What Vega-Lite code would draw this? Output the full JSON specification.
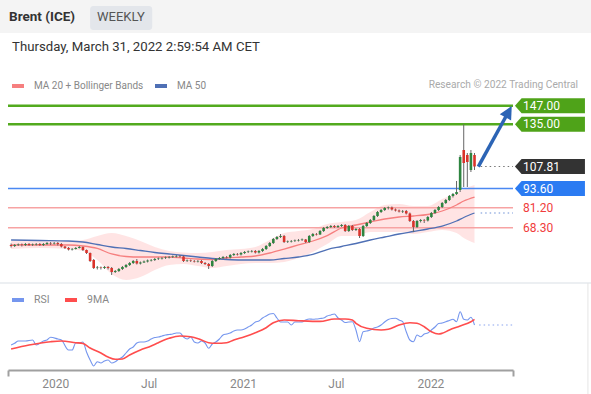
{
"$schema": "https://vega.github.io/schema/vega-lite/v6.json",
"width": 505,
"height": 370,
"autosize": {"type": "none"},
"padding": {"left": 8, "top": 0, "right": 78, "bottom": 24},
"background": "white",
"config": {"view": {"stroke": null}, "font": "Roboto"},
"data": {"values": [{}]},
"datasets": {
"candles": [
{"d":"2019-10-07","o":57.17,"h":58.13,"l":55.55,"c":56.52},
{"d":"2019-10-14","o":56.52,"h":57.81,"l":55.88,"c":57.17},
{"d":"2019-10-21","o":57.17,"h":58.13,"l":56.52,"c":57.49},
{"d":"2019-10-28","o":57.49,"h":58.13,"l":56.2,"c":57.17},
{"d":"2019-11-04","o":57.17,"h":58.46,"l":56.52,"c":57.81},
{"d":"2019-11-11","o":57.81,"h":58.46,"l":56.52,"c":57.17},
{"d":"2019-11-18","o":57.17,"h":58.13,"l":56.52,"c":57.49},
{"d":"2019-11-25","o":57.49,"h":58.46,"l":56.84,"c":57.81},
{"d":"2019-12-02","o":57.81,"h":58.46,"l":56.52,"c":57.17},
{"d":"2019-12-09","o":57.17,"h":58.46,"l":56.52,"c":57.81},
{"d":"2019-12-16","o":57.81,"h":59.1,"l":57.17,"c":58.46},
{"d":"2019-12-23","o":58.46,"h":59.1,"l":57.17,"c":58.13},
{"d":"2019-12-30","o":58.13,"h":59.1,"l":57.49,"c":58.46},
{"d":"2020-01-06","o":58.46,"h":59.1,"l":56.84,"c":57.81},
{"d":"2020-01-13","o":57.81,"h":58.46,"l":55.55,"c":56.2},
{"d":"2020-01-20","o":56.2,"h":56.52,"l":54.58,"c":55.23},
{"d":"2020-01-27","o":55.23,"h":55.88,"l":53.62,"c":54.26},
{"d":"2020-02-03","o":54.26,"h":55.23,"l":53.62,"c":54.58},
{"d":"2020-02-10","o":54.58,"h":55.88,"l":54.26,"c":55.23},
{"d":"2020-02-17","o":55.23,"h":56.52,"l":54.91,"c":55.88},
{"d":"2020-02-24","o":55.88,"h":56.2,"l":53.29,"c":53.94},
{"d":"2020-03-02","o":53.94,"h":54.26,"l":51.36,"c":52.0},
{"d":"2020-03-09","o":52.0,"h":52.33,"l":46.2,"c":46.84},
{"d":"2020-03-16","o":47.49,"h":48.13,"l":41.68,"c":42.33},
{"d":"2020-03-23","o":42.33,"h":43.62,"l":41.36,"c":42.65},
{"d":"2020-03-30","o":42.65,"h":43.29,"l":41.36,"c":42.33},
{"d":"2020-04-06","o":42.33,"h":43.62,"l":41.68,"c":42.97},
{"d":"2020-04-13","o":42.97,"h":43.62,"l":41.36,"c":42.33},
{"d":"2020-04-20","o":42.33,"h":42.97,"l":37.81,"c":39.75},
{"d":"2020-04-27","o":39.75,"h":41.04,"l":39.1,"c":40.39},
{"d":"2020-05-04","o":40.39,"h":42.33,"l":39.75,"c":41.68},
{"d":"2020-05-11","o":41.68,"h":43.62,"l":41.04,"c":42.97},
{"d":"2020-05-18","o":42.97,"h":44.91,"l":42.33,"c":44.26},
{"d":"2020-05-25","o":44.26,"h":46.2,"l":43.62,"c":45.55},
{"d":"2020-06-01","o":45.55,"h":47.49,"l":44.91,"c":46.84},
{"d":"2020-06-08","o":46.84,"h":48.13,"l":44.59,"c":45.23},
{"d":"2020-06-15","o":45.23,"h":46.52,"l":44.59,"c":45.88},
{"d":"2020-06-22","o":45.88,"h":47.17,"l":45.55,"c":46.52},
{"d":"2020-06-29","o":46.52,"h":47.81,"l":45.88,"c":47.17},
{"d":"2020-07-06","o":47.17,"h":48.13,"l":46.52,"c":47.49},
{"d":"2020-07-13","o":47.49,"h":48.78,"l":46.84,"c":48.13},
{"d":"2020-07-20","o":48.13,"h":49.1,"l":47.49,"c":48.46},
{"d":"2020-07-27","o":48.46,"h":49.42,"l":47.81,"c":48.78},
{"d":"2020-08-03","o":48.78,"h":49.75,"l":48.13,"c":49.1},
{"d":"2020-08-10","o":49.1,"h":50.07,"l":48.46,"c":49.42},
{"d":"2020-08-17","o":49.42,"h":50.39,"l":48.78,"c":49.75},
{"d":"2020-08-24","o":49.75,"h":50.71,"l":49.1,"c":50.07},
{"d":"2020-08-31","o":50.07,"h":50.71,"l":49.1,"c":49.75},
{"d":"2020-09-07","o":49.75,"h":50.39,"l":46.2,"c":46.84},
{"d":"2020-09-14","o":46.84,"h":47.81,"l":46.2,"c":47.17},
{"d":"2020-09-21","o":47.17,"h":47.81,"l":46.2,"c":46.84},
{"d":"2020-09-28","o":46.84,"h":47.49,"l":45.88,"c":46.52},
{"d":"2020-10-05","o":46.52,"h":47.49,"l":45.88,"c":46.84},
{"d":"2020-10-12","o":46.84,"h":47.49,"l":44.91,"c":45.55},
{"d":"2020-10-19","o":45.55,"h":46.2,"l":44.26,"c":44.91},
{"d":"2020-10-26","o":44.91,"h":45.55,"l":41.68,"c":43.62},
{"d":"2020-11-02","o":43.62,"h":47.49,"l":42.97,"c":46.84},
{"d":"2020-11-09","o":46.84,"h":48.78,"l":46.2,"c":48.13},
{"d":"2020-11-16","o":48.13,"h":49.42,"l":47.49,"c":48.78},
{"d":"2020-11-23","o":48.78,"h":50.07,"l":48.13,"c":49.42},
{"d":"2020-11-30","o":49.42,"h":50.07,"l":48.46,"c":49.1},
{"d":"2020-12-07","o":49.1,"h":51.36,"l":48.46,"c":50.71},
{"d":"2020-12-14","o":50.71,"h":52.0,"l":50.07,"c":51.36},
{"d":"2020-12-21","o":51.36,"h":52.0,"l":50.39,"c":51.04},
{"d":"2020-12-28","o":51.04,"h":52.65,"l":50.39,"c":52.0},
{"d":"2021-01-04","o":52.0,"h":53.29,"l":51.36,"c":52.65},
{"d":"2021-01-11","o":52.65,"h":53.62,"l":52.0,"c":52.97},
{"d":"2021-01-18","o":52.97,"h":53.94,"l":52.33,"c":53.29},
{"d":"2021-01-25","o":53.29,"h":53.94,"l":51.68,"c":52.33},
{"d":"2021-02-01","o":52.33,"h":53.94,"l":51.68,"c":53.29},
{"d":"2021-02-08","o":53.29,"h":55.23,"l":52.65,"c":54.58},
{"d":"2021-02-15","o":54.58,"h":57.17,"l":53.94,"c":56.52},
{"d":"2021-02-22","o":56.52,"h":59.1,"l":55.88,"c":58.46},
{"d":"2021-03-01","o":58.46,"h":61.68,"l":57.81,"c":61.04},
{"d":"2021-03-08","o":61.04,"h":62.97,"l":60.39,"c":62.33},
{"d":"2021-03-15","o":62.33,"h":64.26,"l":61.68,"c":62.97},
{"d":"2021-03-22","o":62.97,"h":63.62,"l":58.46,"c":59.1},
{"d":"2021-03-29","o":59.1,"h":60.07,"l":58.46,"c":59.42},
{"d":"2021-04-05","o":59.42,"h":60.39,"l":58.78,"c":59.75},
{"d":"2021-04-12","o":59.75,"h":60.71,"l":59.1,"c":60.07},
{"d":"2021-04-19","o":60.07,"h":61.04,"l":59.42,"c":60.39},
{"d":"2021-04-26","o":60.39,"h":61.36,"l":59.75,"c":60.71},
{"d":"2021-05-03","o":60.71,"h":61.04,"l":58.46,"c":59.1},
{"d":"2021-05-10","o":59.1,"h":63.62,"l":58.46,"c":62.97},
{"d":"2021-05-17","o":62.97,"h":64.91,"l":62.33,"c":64.26},
{"d":"2021-05-24","o":64.26,"h":64.91,"l":63.29,"c":63.94},
{"d":"2021-05-31","o":63.94,"h":66.84,"l":63.62,"c":66.2},
{"d":"2021-06-07","o":66.2,"h":68.78,"l":65.55,"c":68.13},
{"d":"2021-06-14","o":68.13,"h":69.42,"l":67.49,"c":68.78},
{"d":"2021-06-21","o":68.78,"h":70.07,"l":68.13,"c":69.42},
{"d":"2021-06-28","o":69.42,"h":70.07,"l":68.13,"c":68.78},
{"d":"2021-07-05","o":68.78,"h":70.07,"l":68.13,"c":69.42},
{"d":"2021-07-12","o":69.42,"h":70.71,"l":68.78,"c":70.07},
{"d":"2021-07-19","o":70.07,"h":70.71,"l":65.55,"c":66.2},
{"d":"2021-07-26","o":66.2,"h":70.07,"l":65.55,"c":69.42},
{"d":"2021-08-02","o":69.42,"h":70.07,"l":66.2,"c":66.84},
{"d":"2021-08-09","o":66.84,"h":68.13,"l":66.2,"c":67.49},
{"d":"2021-08-16","o":67.49,"h":68.13,"l":61.68,"c":62.97},
{"d":"2021-08-23","o":62.97,"h":70.07,"l":62.33,"c":69.42},
{"d":"2021-08-30","o":69.42,"h":72.0,"l":68.78,"c":71.36},
{"d":"2021-09-06","o":71.36,"h":73.94,"l":70.71,"c":73.29},
{"d":"2021-09-13","o":73.29,"h":76.52,"l":72.65,"c":75.88},
{"d":"2021-09-20","o":75.88,"h":79.1,"l":75.23,"c":78.46},
{"d":"2021-09-27","o":78.46,"h":80.39,"l":77.81,"c":79.75},
{"d":"2021-10-04","o":79.75,"h":81.68,"l":79.1,"c":81.04},
{"d":"2021-10-11","o":81.04,"h":82.0,"l":80.07,"c":81.36},
{"d":"2021-10-18","o":81.36,"h":82.0,"l":79.42,"c":80.07},
{"d":"2021-10-25","o":80.07,"h":80.71,"l":78.78,"c":79.42},
{"d":"2021-11-01","o":79.42,"h":80.07,"l":78.13,"c":78.78},
{"d":"2021-11-08","o":78.78,"h":79.75,"l":77.81,"c":79.1},
{"d":"2021-11-15","o":79.1,"h":79.75,"l":76.84,"c":77.49},
{"d":"2021-11-22","o":77.49,"h":78.13,"l":72.0,"c":72.65},
{"d":"2021-11-29","o":72.65,"h":73.29,"l":65.55,"c":68.78},
{"d":"2021-12-06","o":68.78,"h":73.29,"l":68.13,"c":72.65},
{"d":"2021-12-13","o":72.65,"h":73.94,"l":71.68,"c":73.29},
{"d":"2021-12-20","o":73.29,"h":73.94,"l":71.36,"c":72.97},
{"d":"2021-12-27","o":72.97,"h":75.88,"l":72.33,"c":75.23},
{"d":"2022-01-03","o":75.23,"h":78.46,"l":74.59,"c":77.81},
{"d":"2022-01-10","o":77.81,"h":80.39,"l":77.17,"c":79.75},
{"d":"2022-01-17","o":79.75,"h":82.33,"l":79.1,"c":81.68},
{"d":"2022-01-24","o":81.68,"h":84.91,"l":81.04,"c":84.26},
{"d":"2022-01-31","o":84.26,"h":86.84,"l":83.62,"c":86.2},
{"d":"2022-02-07","o":86.2,"h":89.42,"l":85.55,"c":88.78},
{"d":"2022-02-14","o":88.78,"h":90.71,"l":87.81,"c":90.07},
{"d":"2022-02-21","o":90.07,"h":98.46,"l":89.42,"c":91.36},
{"d":"2022-02-28","o":92.65,"h":115.23,"l":91.36,"c":113.94},
{"d":"2022-03-07","o":118.46,"h":135.0,"l":94.58,"c":110.07},
{"d":"2022-03-14","o":115.23,"h":116.52,"l":94.58,"c":110.71},
{"d":"2022-03-21","o":105.55,"h":118.46,"l":104.26,"c":116.52},
{"d":"2022-03-28","o":115.23,"h":116.52,"l":105.55,"c":107.81}
],
"ma": [
{"d":"2019-10-07","up":59.75,"ma20":57.17,"lo":54.58,"ma50":60.39},
{"d":"2019-12-02","up":59.75,"ma20":57.17,"lo":55.23,"ma50":60.07},
{"d":"2020-01-27","up":59.75,"ma20":57.17,"lo":54.58,"ma50":59.75},
{"d":"2020-02-24","up":60.39,"ma20":56.52,"lo":53.29,"ma50":59.1},
{"d":"2020-03-23","up":62.97,"ma20":54.91,"lo":47.49,"ma50":57.49},
{"d":"2020-04-20","up":64.91,"ma20":51.36,"lo":38.46,"ma50":55.88},
{"d":"2020-05-18","up":62.97,"ma20":49.75,"lo":34.59,"ma50":54.91},
{"d":"2020-06-15","up":59.75,"ma20":49.42,"lo":36.52,"ma50":53.62},
{"d":"2020-07-13","up":55.88,"ma20":49.42,"lo":41.04,"ma50":52.33},
{"d":"2020-08-10","up":53.29,"ma20":49.42,"lo":44.26,"ma50":51.36},
{"d":"2020-09-07","up":52.33,"ma20":48.78,"lo":44.91,"ma50":50.39},
{"d":"2020-10-05","up":52.0,"ma20":48.13,"lo":43.62,"ma50":49.42},
{"d":"2020-11-02","up":52.65,"ma20":47.81,"lo":42.33,"ma50":48.46},
{"d":"2020-11-30","up":53.94,"ma20":48.78,"lo":43.62,"ma50":47.81},
{"d":"2020-12-28","up":54.58,"ma20":49.42,"lo":44.91,"ma50":47.49},
{"d":"2021-01-25","up":55.88,"ma20":50.07,"lo":45.55,"ma50":47.49},
{"d":"2021-02-22","up":60.39,"ma20":52.0,"lo":45.55,"ma50":47.49},
{"d":"2021-03-22","up":64.91,"ma20":54.58,"lo":46.2,"ma50":48.46},
{"d":"2021-04-19","up":66.2,"ma20":57.17,"lo":48.78,"ma50":49.42},
{"d":"2021-05-17","up":67.49,"ma20":59.75,"lo":52.65,"ma50":51.04},
{"d":"2021-06-14","up":70.71,"ma20":63.26,"lo":57.81,"ma50":54.26},
{"d":"2021-07-12","up":72.0,"ma20":68.13,"lo":62.97,"ma50":56.2},
{"d":"2021-08-09","up":73.29,"ma20":70.07,"lo":62.97,"ma50":58.13},
{"d":"2021-09-06","up":78.46,"ma20":72.0,"lo":65.55,"ma50":60.39},
{"d":"2021-10-04","up":82.97,"ma20":73.94,"lo":65.55,"ma50":62.33},
{"d":"2021-11-01","up":83.62,"ma20":75.23,"lo":65.55,"ma50":64.26},
{"d":"2021-11-29","up":82.33,"ma20":75.88,"lo":64.26,"ma50":65.88},
{"d":"2021-12-27","up":82.33,"ma20":76.84,"lo":65.55,"ma50":67.49},
{"d":"2022-01-24","up":86.84,"ma20":79.1,"lo":66.84,"ma50":69.42},
{"d":"2022-02-21","up":90.71,"ma20":82.97,"lo":64.91,"ma50":72.65},
{"d":"2022-03-07","up":93.3,"ma20":85.55,"lo":61.68,"ma50":74.91},
{"d":"2022-03-28","up":95.88,"ma20":88.13,"lo":58.46,"ma50":77.81}
],
"rsi": [
{"d":"2019-10-07","s":"RSI","v":41.96},{"d":"2019-10-14","s":"RSI","v":44.0},{"d":"2019-10-21","s":"RSI","v":46.76},{"d":"2019-11-04","s":"RSI","v":46.76},{"d":"2019-11-18","s":"RSI","v":47.96},{"d":"2019-11-25","s":"RSI","v":41.96},{"d":"2019-12-09","s":"RSI","v":46.76},{"d":"2019-12-16","s":"RSI","v":47.96},{"d":"2019-12-23","s":"RSI","v":51.2},{"d":"2020-01-06","s":"RSI","v":49.16},{"d":"2020-01-13","s":"RSI","v":47.96},{"d":"2020-01-27","s":"RSI","v":35.96},{"d":"2020-02-03","s":"RSI","v":35.96},{"d":"2020-02-10","s":"RSI","v":44.36},{"d":"2020-02-17","s":"RSI","v":44.36},{"d":"2020-02-24","s":"RSI","v":45.56},{"d":"2020-03-02","s":"RSI","v":33.56},{"d":"2020-03-09","s":"RSI","v":23.96},{"d":"2020-03-16","s":"RSI","v":16.76},{"d":"2020-03-23","s":"RSI","v":21.92},{"d":"2020-03-30","s":"RSI","v":20.36},{"d":"2020-04-06","s":"RSI","v":22.76},{"d":"2020-04-13","s":"RSI","v":23.96},{"d":"2020-04-20","s":"RSI","v":20.36},{"d":"2020-04-27","s":"RSI","v":21.92},{"d":"2020-05-04","s":"RSI","v":25.16},{"d":"2020-05-11","s":"RSI","v":27.56},{"d":"2020-05-18","s":"RSI","v":32.36},{"d":"2020-05-25","s":"RSI","v":37.16},{"d":"2020-06-01","s":"RSI","v":39.56},{"d":"2020-06-08","s":"RSI","v":44.36},{"d":"2020-06-15","s":"RSI","v":45.56},{"d":"2020-06-22","s":"RSI","v":45.56},{"d":"2020-06-29","s":"RSI","v":46.76},{"d":"2020-07-06","s":"RSI","v":49.16},{"d":"2020-07-13","s":"RSI","v":50.96},{"d":"2020-07-20","s":"RSI","v":51.56},{"d":"2020-07-27","s":"RSI","v":52.76},{"d":"2020-08-03","s":"RSI","v":53.96},{"d":"2020-08-10","s":"RSI","v":54.56},{"d":"2020-08-17","s":"RSI","v":55.16},{"d":"2020-08-24","s":"RSI","v":56.36},{"d":"2020-08-31","s":"RSI","v":56.36},{"d":"2020-09-07","s":"RSI","v":51.56},{"d":"2020-09-14","s":"RSI","v":49.16},{"d":"2020-09-21","s":"RSI","v":51.56},{"d":"2020-09-28","s":"RSI","v":45.56},{"d":"2020-10-05","s":"RSI","v":44.36},{"d":"2020-10-12","s":"RSI","v":46.76},{"d":"2020-10-19","s":"RSI","v":44.36},{"d":"2020-10-26","s":"RSI","v":38.0},{"d":"2020-11-02","s":"RSI","v":43.16},{"d":"2020-11-09","s":"RSI","v":45.56},{"d":"2020-11-16","s":"RSI","v":49.16},{"d":"2020-11-23","s":"RSI","v":53.96},{"d":"2020-11-30","s":"RSI","v":55.16},{"d":"2020-12-07","s":"RSI","v":56.36},{"d":"2020-12-14","s":"RSI","v":58.76},{"d":"2020-12-21","s":"RSI","v":59.96},{"d":"2020-12-28","s":"RSI","v":59.96},{"d":"2021-01-04","s":"RSI","v":61.16},{"d":"2021-01-11","s":"RSI","v":63.56},{"d":"2021-01-18","s":"RSI","v":65.96},{"d":"2021-01-25","s":"RSI","v":69.56},{"d":"2021-02-01","s":"RSI","v":70.76},{"d":"2021-02-08","s":"RSI","v":74.36},{"d":"2021-02-15","s":"RSI","v":76.76},{"d":"2021-02-22","s":"RSI","v":79.16},{"d":"2021-03-01","s":"RSI","v":79.76},{"d":"2021-03-08","s":"RSI","v":74.36},{"d":"2021-03-15","s":"RSI","v":69.56},{"d":"2021-03-22","s":"RSI","v":69.56},{"d":"2021-03-29","s":"RSI","v":69.56},{"d":"2021-04-05","s":"RSI","v":65.96},{"d":"2021-04-12","s":"RSI","v":69.56},{"d":"2021-04-19","s":"RSI","v":69.56},{"d":"2021-04-26","s":"RSI","v":69.56},{"d":"2021-05-03","s":"RSI","v":71.96},{"d":"2021-05-10","s":"RSI","v":73.16},{"d":"2021-05-17","s":"RSI","v":72.8},{"d":"2021-05-24","s":"RSI","v":73.16},{"d":"2021-05-31","s":"RSI","v":73.76},{"d":"2021-06-07","s":"RSI","v":74.36},{"d":"2021-06-14","s":"RSI","v":76.76},{"d":"2021-06-21","s":"RSI","v":77.96},{"d":"2021-06-28","s":"RSI","v":79.16},{"d":"2021-07-05","s":"RSI","v":74.36},{"d":"2021-07-12","s":"RSI","v":71.96},{"d":"2021-07-19","s":"RSI","v":68.96},{"d":"2021-07-26","s":"RSI","v":69.56},{"d":"2021-08-02","s":"RSI","v":69.92},{"d":"2021-08-09","s":"RSI","v":59.96},{"d":"2021-08-16","s":"RSI","v":45.92},{"d":"2021-08-23","s":"RSI","v":57.92},{"d":"2021-08-30","s":"RSI","v":58.76},{"d":"2021-09-06","s":"RSI","v":59.96},{"d":"2021-09-13","s":"RSI","v":62.36},{"d":"2021-09-20","s":"RSI","v":63.56},{"d":"2021-09-27","s":"RSI","v":65.96},{"d":"2021-10-04","s":"RSI","v":69.56},{"d":"2021-10-11","s":"RSI","v":72.56},{"d":"2021-10-18","s":"RSI","v":73.76},{"d":"2021-10-25","s":"RSI","v":74.0},{"d":"2021-11-01","s":"RSI","v":71.96},{"d":"2021-11-08","s":"RSI","v":69.92},{"d":"2021-11-15","s":"RSI","v":57.92},{"d":"2021-11-22","s":"RSI","v":47.96},{"d":"2021-11-29","s":"RSI","v":45.92},{"d":"2021-12-06","s":"RSI","v":53.96},{"d":"2021-12-13","s":"RSI","v":51.92},{"d":"2021-12-20","s":"RSI","v":55.16},{"d":"2021-12-27","s":"RSI","v":56.36},{"d":"2022-01-03","s":"RSI","v":59.96},{"d":"2022-01-10","s":"RSI","v":63.56},{"d":"2022-01-17","s":"RSI","v":67.76},{"d":"2022-01-24","s":"RSI","v":68.36},{"d":"2022-01-31","s":"RSI","v":69.92},{"d":"2022-02-07","s":"RSI","v":71.36},{"d":"2022-02-14","s":"RSI","v":72.8},{"d":"2022-02-21","s":"RSI","v":69.92},{"d":"2022-02-28","s":"RSI","v":81.92},{"d":"2022-03-07","s":"RSI","v":72.8},{"d":"2022-03-14","s":"RSI","v":71.96},{"d":"2022-03-21","s":"RSI","v":75.2},{"d":"2022-03-28","s":"RSI","v":65.96},
{"d":"2019-10-07","s":"9MA","v":37.16},{"d":"2019-11-11","s":"9MA","v":41.96},{"d":"2019-12-23","s":"9MA","v":45.92},{"d":"2020-01-13","s":"9MA","v":46.76},{"d":"2020-02-10","s":"9MA","v":44.72},{"d":"2020-02-24","s":"9MA","v":43.8},{"d":"2020-03-09","s":"9MA","v":38.36},{"d":"2020-03-30","s":"9MA","v":32.36},{"d":"2020-04-13","s":"9MA","v":27.56},{"d":"2020-04-27","s":"9MA","v":24.8},{"d":"2020-05-11","s":"9MA","v":25.16},{"d":"2020-05-25","s":"9MA","v":29.96},{"d":"2020-06-15","s":"9MA","v":35.96},{"d":"2020-07-06","s":"9MA","v":40.76},{"d":"2020-07-20","s":"9MA","v":44.72},{"d":"2020-08-10","s":"9MA","v":50.0},{"d":"2020-08-31","s":"9MA","v":52.76},{"d":"2020-09-21","s":"9MA","v":51.92},{"d":"2020-10-12","s":"9MA","v":47.96},{"d":"2020-10-26","s":"9MA","v":44.72},{"d":"2020-11-09","s":"9MA","v":44.0},{"d":"2020-11-30","s":"9MA","v":44.72},{"d":"2020-12-14","s":"9MA","v":47.96},{"d":"2021-01-04","s":"9MA","v":51.92},{"d":"2021-01-25","s":"9MA","v":56.72},{"d":"2021-02-15","s":"9MA","v":62.72},{"d":"2021-03-01","s":"9MA","v":68.72},{"d":"2021-03-22","s":"9MA","v":71.96},{"d":"2021-04-19","s":"9MA","v":71.12},{"d":"2021-05-31","s":"9MA","v":70.3},{"d":"2021-06-28","s":"9MA","v":73.16},{"d":"2021-07-19","s":"9MA","v":73.16},{"d":"2021-08-02","s":"9MA","v":71.96},{"d":"2021-08-09","s":"9MA","v":68.0},{"d":"2021-08-30","s":"9MA","v":62.0},{"d":"2021-09-27","s":"9MA","v":59.96},{"d":"2021-10-11","s":"9MA","v":60.8},{"d":"2021-11-01","s":"9MA","v":65.96},{"d":"2021-11-22","s":"9MA","v":68.72},{"d":"2021-12-06","s":"9MA","v":68.0},{"d":"2021-12-20","s":"9MA","v":63.92},{"d":"2022-01-03","s":"9MA","v":57.92},{"d":"2022-01-17","s":"9MA","v":55.16},{"d":"2022-01-24","s":"9MA","v":56.0},{"d":"2022-02-07","s":"9MA","v":59.96},{"d":"2022-02-28","s":"9MA","v":64.76},{"d":"2022-03-21","s":"9MA","v":69.92},{"d":"2022-03-28","s":"9MA","v":72.8}
],
"levels": [
{"v":147,"k":"g","t":"147.00"},
{"v":135,"k":"g","t":"135.00"},
{"v":93.6,"k":"b","t":"93.60"},
{"v":81.2,"k":"r","t":"81.20"},
{"v":68.3,"k":"r","t":"68.30"}
],
"tags": [
{"v":147,"k":"g","t":"147.00"},
{"v":135,"k":"g","t":"135.00"},
{"v":107.81,"k":"d","t":"107.81"},
{"v":93.6,"k":"b","t":"93.60"},
{"v":81.2,"k":"r","t":"81.20"},
{"v":68.3,"k":"r","t":"68.30"}
]
},
"layer": [
{
"layer": [
{"mark": {"type": "rect", "fill": "#f4f4f4"},
 "encoding": {
  "x": {"datum": {"year": 2019, "month": 8, "date": 1}, "type": "temporal", "scale": {"domain": [{"year": 2019, "month": 10, "date": 1}, {"year": 2022, "month": 6, "date": 11}], "padding": 0}},
  "x2": {"datum": {"year": 2022, "month": 12, "date": 31}},
  "y": {"datum": 217, "type": "quantitative", "scale": {"domain": [-23.48, 215.23], "nice": false, "zero": false}, "axis": null},
  "y2": {"datum": 193.94}}},
{"mark": {"type": "rect", "fill": "#e3e6eb", "cornerRadius": 3},
 "encoding": {
  "x": {"datum": {"year": 2020, "month": 3, "date": 9}, "type": "temporal"},
  "x2": {"datum": {"year": 2020, "month": 7, "date": 8}},
  "y": {"datum": 211.36, "type": "quantitative", "axis": null},
  "y2": {"datum": 195.87}}},
{"mark": {"type": "text", "text": "Brent (ICE)", "fontSize": 13.5, "fontWeight": "bold", "color": "#333333", "align": "left", "baseline": "middle"},
 "encoding": {
  "x": {"datum": {"year": 2019, "month": 10, "date": 3}, "type": "temporal"},
  "y": {"datum": 203.94, "type": "quantitative", "axis": null}}},
{"mark": {"type": "text", "text": "WEEKLY", "fontSize": 13, "color": "#555555", "align": "center", "baseline": "middle"},
 "encoding": {
  "x": {"datum": {"year": 2020, "month": 5, "date": 8}, "type": "temporal"},
  "y": {"datum": 203.94, "type": "quantitative", "axis": null}}},
{"mark": {"type": "text", "text": "Thursday, March 31, 2022 2:59:54 AM CET", "fontSize": 13.2, "color": "#333333", "align": "left", "baseline": "middle"},
 "encoding": {
  "x": {"datum": {"year": 2019, "month": 10, "date": 9}, "type": "temporal"},
  "y": {"datum": 184.91, "type": "quantitative", "axis": null}}},
{"mark": {"type": "text", "text": "Research © 2022 Trading Central", "fontSize": 10.2, "color": "#aaaaaa", "align": "right", "baseline": "middle"},
 "encoding": {
  "x": {"datum": {"year": 2022, "month": 10, "date": 15, "hours": 17}, "type": "temporal"},
  "y": {"datum": 160.39, "type": "quantitative", "axis": null}}},
{"mark": {"type": "rule", "stroke": "#eceff2", "strokeWidth": 2},
 "encoding": {
  "x": {"datum": {"year": 2019, "month": 8, "date": 1}, "type": "temporal"},
  "x2": {"datum": {"year": 2022, "month": 12, "date": 31}},
  "y": {"datum": 32.65, "type": "quantitative", "axis": null}}},
{"mark": {"type": "rule", "stroke": "#e6e6e6", "strokeWidth": 1},
 "encoding": {
  "x": {"datum": {"year": 2022, "month": 11, "date": 4}, "type": "temporal"},
  "y": {"datum": 32.65, "type": "quantitative", "axis": null},
  "y2": {"datum": -40}}},
{"data": {"name": "ma"},
 "mark": {"type": "area", "fill": "#ff2020", "opacity": 0.12, "interpolate": "monotone"},
 "encoding": {
  "x": {"field": "d", "type": "temporal"},
  "y": {"field": "up", "type": "quantitative", "axis": null},
  "y2": {"field": "lo"}}},
{"data": {"name": "levels"},
 "mark": {"type": "rule"},
 "encoding": {
  "x": {"datum": {"year": 2019, "month": 10, "date": 1}, "type": "temporal"},
  "x2": {"datum": {"year": 2022, "month": 6, "date": 11}},
  "y": {"field": "v", "type": "quantitative", "axis": null},
  "stroke": {"field": "k", "type": "nominal", "scale": {"domain": ["g", "b", "r"], "range": ["#52aa1e", "#4a88f2", "#f7a3a3"]}, "legend": null},
  "strokeWidth": {"condition": {"test": "datum.k == 'g'", "value": 2.5}, "value": 1.5}}},
{"data": {"name": "ma"},
 "transform": [{"fold": ["ma20", "ma50"], "as": ["s", "val"]}],
 "mark": {"type": "line", "strokeWidth": 1.3, "interpolate": "monotone"},
 "encoding": {
  "x": {"field": "d", "type": "temporal"},
  "y": {"field": "val", "type": "quantitative", "axis": null},
  "color": {"field": "s", "type": "nominal", "scale": {"domain": ["ma20", "ma50"], "range": ["#f67f7f", "#4f70b5"]},
   "legend": {"orient": "none", "legendX": 2, "legendY": 78, "direction": "horizontal", "title": null, "symbolType": "stroke", "symbolStrokeWidth": 4, "symbolSize": 144, "labelFontSize": 10, "labelColor": "#888888", "labelOffset": 8, "columnPadding": 3, "labelExpr": "datum.label == 'ma20' ? 'MA 20 + Bollinger Bands' : 'MA 50'"}}}},
{"data": {"name": "candles"},
 "mark": {"type": "rule", "color": "#666666", "strokeWidth": 1},
 "encoding": {
  "x": {"field": "d", "type": "temporal"},
  "y": {"field": "l", "type": "quantitative", "axis": null},
  "y2": {"field": "h"}}},
{"data": {"name": "candles"},
 "mark": {"type": "bar", "width": 2.6},
 "encoding": {
  "x": {"field": "d", "type": "temporal"},
  "y": {"field": "o", "type": "quantitative", "axis": null},
  "y2": {"field": "c"},
  "color": {"condition": {"test": "datum.c >= datum.o", "value": "#2e8540"}, "value": "#d9332b"}}},
{"mark": {"type": "rule", "stroke": "#777777", "strokeDash": [1.5, 3], "strokeWidth": 1.2},
 "encoding": {
  "x": {"datum": {"year": 2022, "month": 4, "date": 9}, "type": "temporal"},
  "x2": {"datum": {"year": 2022, "month": 6, "date": 11}},
  "y": {"datum": 107.81, "type": "quantitative", "axis": null}}},
{"mark": {"type": "rule", "stroke": "#6d8fd6", "strokeDash": [1.5, 3], "strokeWidth": 1.2},
 "encoding": {
  "x": {"datum": {"year": 2022, "month": 4, "date": 9}, "type": "temporal"},
  "x2": {"datum": {"year": 2022, "month": 6, "date": 11}},
  "y": {"datum": 77.81, "type": "quantitative", "axis": null}}},
{"mark": {"type": "rule", "stroke": "#2c64b5", "strokeWidth": 3.5},
 "encoding": {
  "x": {"datum": {"year": 2022, "month": 4, "date": 4, "hours": 10}, "type": "temporal"},
  "x2": {"datum": {"year": 2022, "month": 5, "date": 29, "hours": 7}},
  "y": {"datum": 107.68, "type": "quantitative", "axis": null},
  "y2": {"datum": 140.71}}},
{"mark": {"type": "point", "shape": "M0,-1L0.8,0.6L-0.8,0.6Z", "size": 263, "angle": 29, "filled": true, "color": "#2c64b5", "opacity": 1},
 "encoding": {
  "x": {"datum": {"year": 2022, "month": 5, "date": 31, "hours": 22}, "type": "temporal"},
  "y": {"datum": 142.26, "type": "quantitative", "axis": null}}},
{"data": {"name": "tags"},
 "transform": [{"filter": "datum.k != 'r'"}],
 "mark": {"type": "point", "shape": "M-1,0L-0.81,-0.214H1V0.214H-0.81Z", "size": 4900, "filled": true, "opacity": 1, "strokeWidth": 0},
 "encoding": {
  "x": {"datum": {"year": 2022, "month": 8, "date": 22}, "type": "temporal"},
  "y": {"field": "v", "type": "quantitative", "axis": null},
  "fill": {"field": "k", "type": "nominal", "scale": {"domain": ["g", "d", "b"], "range": ["#4fa319", "#333333", "#2b7bf2"]}, "legend": null}}},
{"data": {"name": "tags"},
 "mark": {"type": "text", "fontSize": 12, "align": "left", "baseline": "middle"},
 "encoding": {
  "x": {"datum": {"year": 2022, "month": 6, "date": 30, "hours": 12}, "type": "temporal"},
  "y": {"field": "v", "type": "quantitative", "axis": null},
  "text": {"field": "t"},
  "color": {"condition": {"test": "datum.k == 'r'", "value": "#f03c3c"}, "value": "#ffffff"}}}
]
},
{
"layer": [
{"data": {"name": "rsi"},
 "mark": {"type": "line", "interpolate": "monotone"},
 "encoding": {
  "x": {"field": "d", "type": "temporal", "scale": {"domain": [{"year": 2019, "month": 10, "date": 1}, {"year": 2022, "month": 6, "date": 11}], "padding": 0},
   "axis": {"title": null, "values": [{"year": 2019, "month": 10, "date": 1}, {"year": 2020, "month": 1, "date": 1}, {"year": 2020, "month": 7, "date": 1}, {"year": 2021, "month": 1, "date": 1}, {"year": 2021, "month": 7, "date": 1}, {"year": 2022, "month": 1, "date": 1}, {"year": 2022, "month": 6, "date": 11}],
    "labelExpr": "month(datum.value) == 0 ? timeFormat(datum.value, '%Y') : (month(datum.value) == 6 ? 'Jul' : '')",
    "grid": false, "domainColor": "#a0a0a0", "domainWidth": 2, "tickColor": "#a0a0a0", "tickWidth": 2, "tickSize": 6,
    "tickOpacity": {"condition": {"test": "month(datum.value) == 9 || month(datum.value) == 5", "value": 1}, "value": 0},
    "labelColor": "#888888", "labelFontSize": 12, "labelPadding": 2, "labelFlush": false, "labelOverlap": false}},
  "y": {"field": "v", "type": "quantitative", "scale": {"domain": [11.96, 455.96], "nice": false, "zero": false},
   "axis": {"orient": "right", "values": [30, 50, 70], "grid": true, "gridDash": [1.5, 3.5], "gridColor": "#bbbbbb", "domain": false, "ticks": false, "labelPadding": 10, "labelColor": "#888888", "labelFontSize": 12, "title": null}},
  "color": {"field": "s", "type": "nominal", "scale": {"domain": ["RSI", "9MA"], "range": ["#7596ee", "#ff4d4d"]},
   "legend": {"orient": "none", "legendX": 2, "legendY": 292, "direction": "horizontal", "title": null, "symbolType": "stroke", "symbolStrokeWidth": 4, "symbolSize": 144, "labelFontSize": 10.5, "labelColor": "#888888", "labelOffset": 8, "columnPadding": 7}},
  "strokeWidth": {"condition": {"test": "datum.s == '9MA'", "value": 1.6}, "value": 1.1}}},
{"mark": {"type": "rule", "stroke": "#8aa4f0", "strokeDash": [1.5, 3], "strokeWidth": 1.2},
 "encoding": {
  "x": {"datum": {"year": 2022, "month": 4, "date": 6}, "type": "temporal"},
  "x2": {"datum": {"year": 2022, "month": 6, "date": 11}},
  "y": {"datum": 65.96, "type": "quantitative", "axis": null}}}
]
}
],
"resolve": {"scale": {"y": "independent", "color": "independent"}}
}
